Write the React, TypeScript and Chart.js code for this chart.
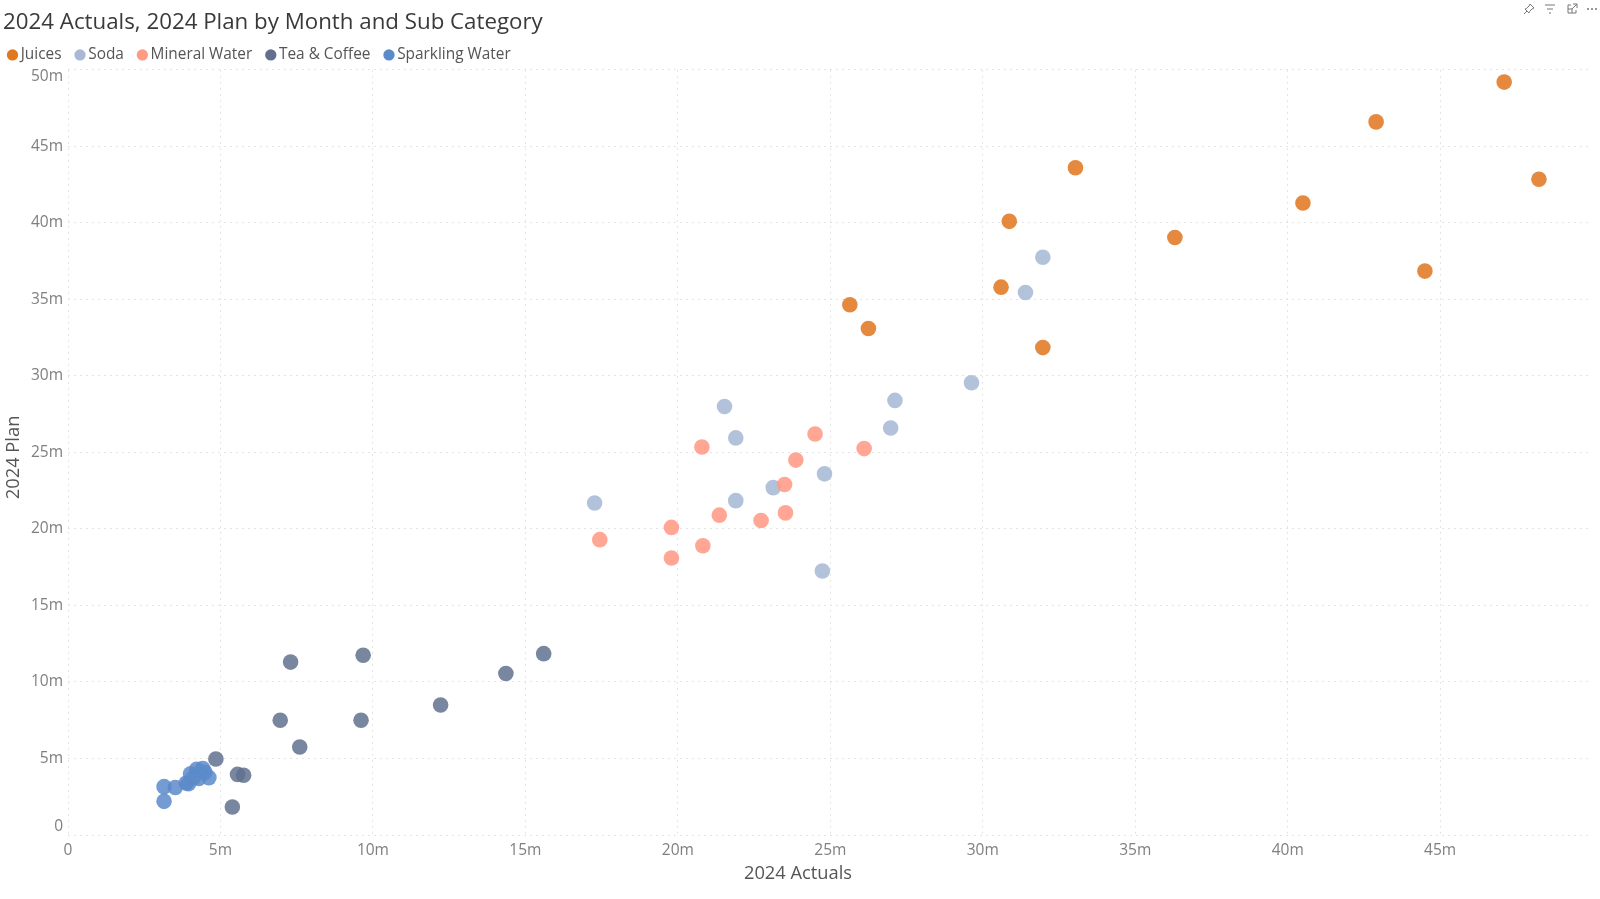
import React, { useEffect, useRef } from "react";
import { Chart, registerables } from "chart.js";

Chart.register(...registerables);

const juicesX = [47.1, 42.9, 33.04, 30.87, 48.24, 40.5, 36.3, 44.5, 30.6, 25.64, 26.25, 31.97];
const juicesY = [49.2, 46.6, 43.6, 40.1, 42.85, 41.3, 39.05, 36.85, 35.8, 34.65, 33.1, 31.85];
const sodaX = [31.97, 31.4, 29.63, 27.12, 21.53, 26.98, 21.9, 24.81, 23.13, 17.27, 21.9, 24.74];
const sodaY = [37.75, 35.45, 29.55, 28.4, 28.0, 26.6, 25.95, 23.6, 22.7, 21.7, 21.85, 17.25];
const mineralX = [20.79, 24.5, 23.87, 26.11, 23.5, 17.44, 19.79, 21.36, 22.73, 23.53, 20.82, 19.79];
const mineralY = [25.35, 26.2, 24.5, 25.25, 22.9, 19.3, 20.1, 20.9, 20.55, 21.05, 18.9, 18.1];
const teaX = [7.3, 9.68, 15.6, 14.36, 12.22, 6.96, 9.61, 7.6, 4.85, 5.56, 5.76, 5.39];
const teaY = [11.3, 11.75, 11.85, 10.55, 8.5, 7.5, 7.5, 5.75, 4.97, 3.96, 3.9, 1.83];
const sparklingX = [3.15, 3.52, 3.15, 3.88, 3.95, 4.02, 4.12, 4.22, 4.29, 4.42, 4.49, 4.62];
const sparklingY = [3.16, 3.1, 2.2, 3.4, 3.35, 4.0, 3.75, 4.3, 3.7, 4.35, 4.1, 3.75];

const xTickValues = [0, 5, 10, 15, 20, 25, 30, 35, 40, 45];
const seriesNames = ["Juices", "Soda", "Mineral Water", "Tea & Coffee", "Sparkling Water"];
const seriesColors = ["rgba(224,120,32,0.87)", "rgba(168,185,214,0.87)", "rgba(255,154,132,0.87)", "rgba(96,113,142,0.85)", "rgba(92,139,202,0.85)"];
const legendColors = ["#E07820", "#A8B9D6", "#FF9A84", "#60718E", "#5C8BCA"];
const chartTitle = "2024 Actuals, 2024 Plan by Month and Sub Category";
const xTitle = "2024 Actuals";
const yTitle = "2024 Plan";

const zip = (xs: number[], ys: number[]) => xs.map((x, i) => ({ x, y: ys[i] }));
const fmt = (v: number) => (v === 0 ? "0" : `${v}m`);
const FONT = "'Open Sans', 'Noto Sans', sans-serif";

// Moves the legend and the axis titles to where the reference has them.
const placement = {
  id: "placement",
  afterLayout(chart: any) {
    const legend = chart.legend;
    if (legend && !legend.$placed) {
      legend.$placed = true;
      const draw = legend.draw.bind(legend);
      legend.draw = () => {
        const { left, top, bottom } = legend;
        legend.left = left - 9;
        legend.top = top + 2.8;
        legend.bottom = bottom + 4;
        draw();
        legend.left = left;
        legend.top = top;
        legend.bottom = bottom;
      };
    }
    const x = chart.scales.x;
    if (x && !x.$placed) {
      x.$placed = true;
      const drawTitle = x.drawTitle.bind(x);
      x.drawTitle = () => {
        const { right } = x;
        x.right = right - 64;
        drawTitle();
        x.right = right;
      };
    }
    const y = chart.scales.y;
    if (y && !y.$placed) {
      y.$placed = true;
      const drawTitle = y.drawTitle.bind(y);
      y.drawTitle = () => {
        const { top } = y;
        y.top = top + 10;
        drawTitle();
        y.top = top;
      };
    }
  },
};

export default function App() {
  const ref = useRef<HTMLCanvasElement>(null);
  useEffect(() => {
    const all = [zip(juicesX, juicesY), zip(sodaX, sodaY), zip(mineralX, mineralY), zip(teaX, teaY), zip(sparklingX, sparklingY)];
    const chart = new Chart(ref.current!, {
      type: "scatter",
      plugins: [placement],
      data: {
        datasets: all.map((data, i) => ({
          label: seriesNames[i],
          data,
          backgroundColor: seriesColors[i],
          borderColor: seriesColors[i],
          borderWidth: 0,
          pointRadius: 7.8,
          pointStyle: "circle",
          order: 4 - i,
        })),
      },
      options: {
        responsive: false,
        animation: false,
        layout: { padding: { left: 3, right: 8, top: 9, bottom: 0 } },
        plugins: {
          tooltip: { enabled: false },
          title: {
            display: true,
            text: chartTitle,
            align: "start",
            color: "#3A3A3A",
            font: { family: FONT, size: 22.3, weight: "normal" },
            padding: { top: 0, bottom: -9.3 },
          },
          legend: {
            display: true,
            position: "top",
            align: "start",
            labels: {
              usePointStyle: true,
              boxWidth: 1,
              boxHeight: 8,
              padding: 18,
              color: "#555",
              font: { family: FONT, size: 15.4 },
              generateLabels: (c: any) =>
                c.data.datasets.map((d: any, i: number) => ({
                  text: d.label,
                  fillStyle: legendColors[i],
                  strokeStyle: legendColors[i],
                  lineWidth: 0,
                  pointStyle: "circle",
                  datasetIndex: i,
                  fontColor: "#555",
                })),
            },
          },
        },
        scales: {
          x: {
            type: "linear",
            min: 0,
            max: 49.98,
            afterFit: (s: any) => {
              s.height = 64;
            },
            afterBuildTicks: (s: any) => {
              s.ticks = xTickValues.map((value) => ({ value }));
            },
            ticks: {
              color: "#7F7F7F",
              font: { family: FONT, size: 15.5 },
              padding: 6,
              maxRotation: 0,
              callback: (v: any) => fmt(Number(v)),
            },
            grid: { color: "#E4E4E4", lineWidth: 1, drawTicks: false, tickLength: 0 },
            border: { display: false, dash: [2, 4] },
            title: { display: true, text: xTitle, color: "#555", font: { family: FONT, size: 18.3 }, padding: { top: 0, bottom: 14 } },
          },
          y: {
            type: "linear",
            min: 0,
            max: 50,
            afterFit: (s: any) => {
              s.width = 65;
            },
            ticks: {
              stepSize: 5,
              color: "#7F7F7F",
              padding: 5,
              font: (ctx: any) => ({
                family: FONT,
                size: 15.5,
                lineHeight: ctx.tick && ctx.tick.value === 50 ? 0.85 : ctx.tick && ctx.tick.value === 0 ? 1.1 : 1.2,
              }),
              callback: (v: any) => {
                const n = Number(v);
                if (n === 50) return ["", fmt(n)];
                if (n === 0) return [fmt(n), ""];
                return fmt(n);
              },
            },
            grid: { color: "#E4E4E4", lineWidth: 1, drawTicks: false, tickLength: 0 },
            border: { display: false, dash: [2, 4] },
            title: { display: true, text: yTitle, color: "#555", font: { family: FONT, size: 18.3 }, padding: { top: 0, bottom: 0 } },
          },
        },
      },
    } as any);
    return () => chart.destroy();
  }, []);

  const iconStyle: React.CSSProperties = { position: "absolute", top: 3, width: 12, height: 12 };
  return (
    <div style={{ position: "fixed", left: 0, top: 0, width: 1600, height: 899, background: "#fff", overflow: "hidden" }}>
      <canvas ref={ref} width={1600} height={899} style={{ display: "block" }} />
      <svg style={{ ...iconStyle, left: 1523 }} viewBox="0 0 12 12" fill="none" stroke="#777" strokeWidth="1">
        <path d="M7 1l4 4-2 1-2.5 2.5L6 10 2 6l1.5-.5L6 3zM4 8l-3 3" />
      </svg>
      <svg style={{ ...iconStyle, left: 1544 }} viewBox="0 0 12 12" fill="none" stroke="#777" strokeWidth="1">
        <path d="M1 2h10M3 6h6M5 10h2" />
      </svg>
      <svg style={{ ...iconStyle, left: 1566 }} viewBox="0 0 12 12" fill="none" stroke="#777" strokeWidth="1">
        <path d="M5 2H2v8h8V7M7 1h4v4M11 1L6 6M2 6h4v4" />
      </svg>
      <svg style={{ ...iconStyle, left: 1586 }} viewBox="0 0 12 12" fill="#777">
        <circle cx="2" cy="6" r="1" />
        <circle cx="6" cy="6" r="1" />
        <circle cx="10" cy="6" r="1" />
      </svg>
    </div>
  );
}
